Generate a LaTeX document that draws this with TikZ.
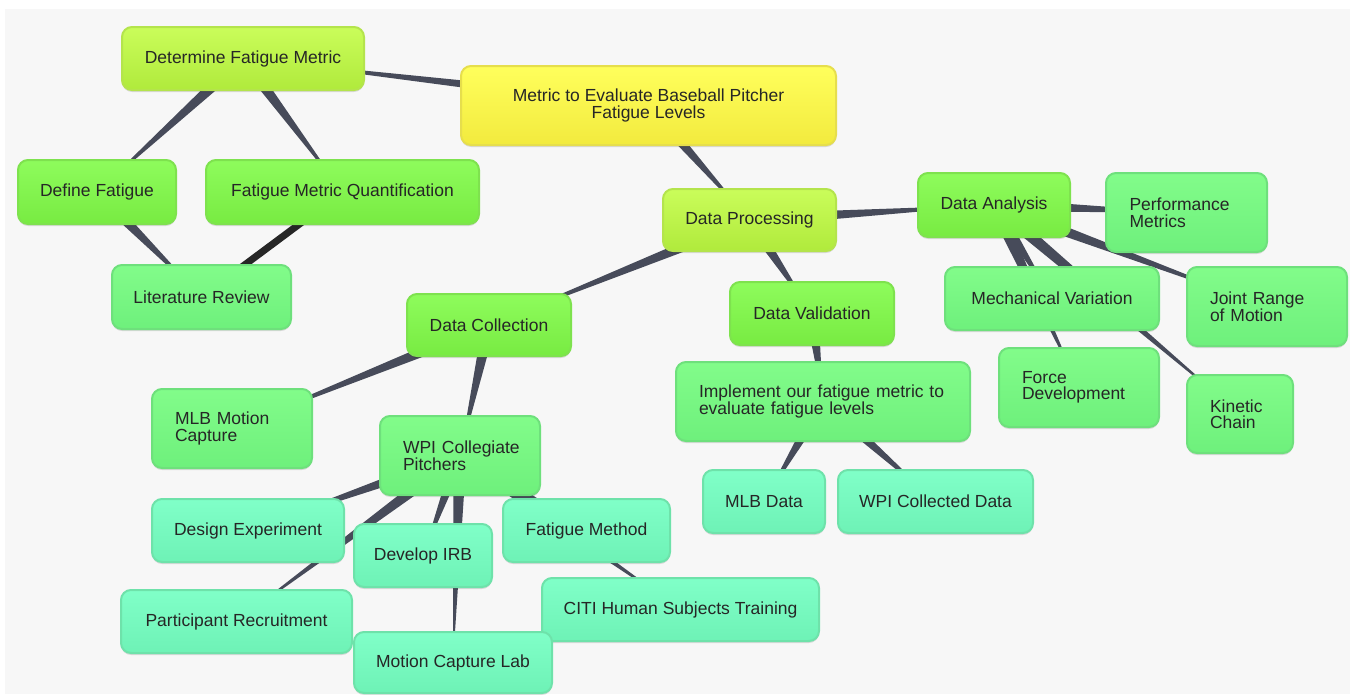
\documentclass[tikz,border=0pt]{standalone}
\usepackage{fontspec}
\setmainfont{Liberation Sans}
\usetikzlibrary{calc,shadows}
\pgfdeclarelayer{bg}
\pgfsetlayers{bg,main}
\definecolor{pagebg}{HTML}{F7F7F7}
\definecolor{txt}{HTML}{262626}
\definecolor{conn}{HTML}{474B5A}
\definecolor{xl}{HTML}{262626}
\definecolor{rootT}{HTML}{FFFF5C}
\definecolor{rootB}{HTML}{F2EA3E}
\definecolor{rootD}{HTML}{E6DE4C}
\definecolor{ygT}{HTML}{CAFD5A}
\definecolor{ygB}{HTML}{B0EA3C}
\definecolor{ygD}{HTML}{B4E44C}
\definecolor{grT}{HTML}{8EFC5C}
\definecolor{grB}{HTML}{78EB42}
\definecolor{grD}{HTML}{7EE24E}
\definecolor{mgT}{HTML}{82FC8A}
\definecolor{mgB}{HTML}{6EF07C}
\definecolor{mgD}{HTML}{6EE07C}
\definecolor{aqT}{HTML}{80FFC8}
\definecolor{aqB}{HTML}{6EF2B6}
\definecolor{aqD}{HTML}{6EE2AA}
\tikzset{
  box/.style={rounded corners=10pt, line width=2pt, inner sep=0pt, text=txt,
    font=\fontsize{17.5}{16.5}\selectfont,
    drop shadow={shadow xshift=0pt, shadow yshift=-2pt, opacity=0.12, fill=black}},
  lvA/.style={box, draw=rootD, top color=rootT, bottom color=rootB},
  lvB/.style={box, draw=ygD, top color=ygT, bottom color=ygB},
  lvC/.style={box, draw=grD, top color=grT, bottom color=grB},
  lvD/.style={box, draw=mgD, top color=mgT, bottom color=mgB},
  lvE/.style={box, draw=aqD, top color=aqT, bottom color=aqB},
  sz/.style n args={2}{minimum width=#1pt, minimum height=#2pt},
  ml/.style={align=left, text width=#1pt},
  xlink/.style={draw=xl, line width=7pt},
}
\newcommand{\wdg}[2]{\fill[conn] ($(#1.center)!6.5pt!90:(#2.center)$) -- ($(#1.center)!6.5pt!-90:(#2.center)$) -- (#2.center) -- cycle;}
\begin{document}
\begin{tikzpicture}[x=1pt,y=-1pt]
\clip (0,0) rectangle (1350,694);
\useasboundingbox (0,0) rectangle (1350,694);
\begin{pgfonlayer}{bg}
\fill[white] (0,0) rectangle (1350,694);
\fill[pagebg] (5,9) rectangle (1350,694);
\end{pgfonlayer}
% level 1
\node[lvA, sz={375}{79}, align=center] (root) at (648.5,105.5) {Metric to Evaluate Baseball Pitcher\\Fatigue Levels};
% level 2
\node[lvB, sz={242}{63}] (dfm) at (243,58.5) {Determine Fatigue Metric};
\node[lvB, sz={173}{62}] (dp) at (749.5,220) {Data Processing};
% level 3
\node[lvC, sz={158}{64}] (df) at (97,192) {Define Fatigue};
\node[lvC, sz={273}{64}] (fmq) at (342.5,192) {Fatigue Metric Quantification};
\node[lvC, sz={152}{64}] (da) at (994,205) {Data Analysis};
\node[lvC, sz={164}{62}] (dc) at (489,325) {Data Collection};
\node[lvC, sz={164}{63}] (dv) at (812,313.5) {Data Validation};
% level 4
\node[lvD, sz={179}{64}] (lr) at (201.5,297) {Literature Review};
\node[lvD, sz={161}{79}, ml=114] (pm) at (1186.5,212.5) {Performance\\Metrics};
\node[lvD, sz={214}{63}] (mv) at (1052,298.5) {Mechanical Variation};
\node[lvD, sz={160}{79}, ml=114] (jr) at (1267,306.5) {Joint Range\\of Motion};
\node[lvD, sz={160}{79}, ml=114] (fd) at (1079,387.5) {Force\\Development};
\node[lvD, sz={106}{78}, ml=60] (kc) at (1240,414) {Kinetic\\Chain};
\node[lvD, sz={294}{79}, ml=248] (imp) at (823,401.5) {\mbox{Implement our fatigue metric to}\\evaluate fatigue levels};
\node[lvD, sz={160}{79}, ml=114] (mlbmc) at (232,428.5) {MLB Motion\\Capture};
\node[lvD, sz={160}{79}, ml=114] (wpic) at (460,455.5) {\mbox{WPI Collegiate}\\Pitchers};
% level 5
\node[lvE, sz={122}{63}] (mlbd) at (764,501.5) {MLB Data};
\node[lvE, sz={195}{63}] (wpid) at (935.5,501.5) {WPI Collected Data};
\node[lvE, sz={192}{63}] (de) at (248,530.5) {Design Experiment};
\node[lvE, sz={138}{63}] (irb) at (423,555.5) {Develop IRB};
\node[lvE, sz={167}{63}] (fm) at (586.5,530.5) {Fatigue Method};
\node[lvE, sz={231}{63}] (pr) at (236.5,621.5) {Participant Recruitment};
\node[lvE, sz={277}{63}] (citi) at (680.5,609.5) {CITI Human Subjects Training};
\node[lvE, sz={198}{61}] (mcl) at (453,662.5) {Motion Capture Lab};
% connectors
\begin{pgfonlayer}{bg}
\wdg{root}{dfm}
\wdg{root}{dp}
\wdg{dfm}{df}
\wdg{dfm}{fmq}
\wdg{df}{lr}
\draw[xlink] (fmq.center) -- (lr.center);
\wdg{dp}{dc}
\wdg{dp}{dv}
\wdg{dp}{da}
\wdg{da}{pm}
\wdg{da}{mv}
\wdg{da}{jr}
\wdg{da}{fd}
\wdg{da}{kc}
\wdg{dc}{mlbmc}
\wdg{dc}{wpic}
\wdg{dv}{imp}
\wdg{imp}{mlbd}
\wdg{imp}{wpid}
\wdg{wpic}{de}
\wdg{wpic}{pr}
\wdg{wpic}{irb}
\wdg{wpic}{mcl}
\wdg{wpic}{fm}
\wdg{wpic}{citi}
\end{pgfonlayer}
\end{tikzpicture}
\end{document}
